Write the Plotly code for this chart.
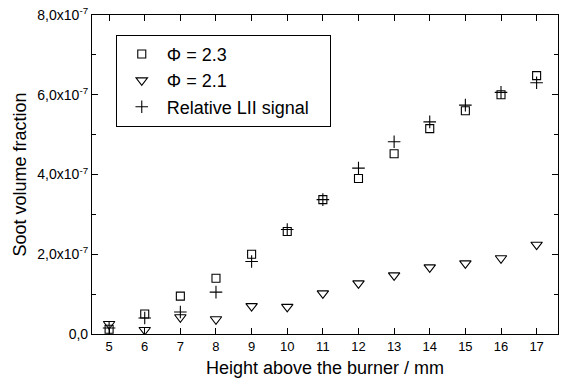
import plotly.graph_objects as go

heights = [5, 6, 7, 8, 9, 10, 11, 12, 13, 14, 15, 16, 17]
phi23 = [0.12e-7, 0.50e-7, 0.95e-7, 1.40e-7, 2.00e-7, 2.57e-7, 3.37e-7, 3.90e-7, 4.52e-7, 5.15e-7, 5.60e-7, 6.00e-7, 6.48e-7]
phi21 = [0.25e-7, 0.10e-7, 0.42e-7, 0.37e-7, 0.70e-7, 0.68e-7, 1.02e-7, 1.27e-7, 1.47e-7, 1.67e-7, 1.77e-7, 1.90e-7, 2.24e-7]
lii = [0.15e-7, 0.40e-7, 0.55e-7, 1.05e-7, 1.82e-7, 2.62e-7, 3.37e-7, 4.16e-7, 4.82e-7, 5.32e-7, 5.74e-7, 6.06e-7, 6.30e-7]

ytick_vals = [0, 2e-7, 4e-7, 6e-7, 8e-7]
ytick_text = ["0,0", "2,0x10<sup>-7</sup>", "4,0x10<sup>-7</sup>", "6,0x10<sup>-7</sup>", "8,0x10<sup>-7</sup>"]

fig = go.Figure()
fig.add_trace(go.Scatter(x=heights, y=phi23, mode="markers", name="Φ = 2.3", legendgroup="a",
                         marker=dict(symbol="square-open", size=8, color="black", line=dict(width=1.1))))
fig.add_trace(go.Scatter(x=heights, y=phi21, mode="markers", name="Φ = 2.1", legendgroup="b",
                         marker=dict(symbol="triangle-down-open", size=10, color="black", line=dict(width=1.1))))
fig.add_trace(go.Scatter(x=heights, y=lii, mode="markers", name="Relative LII signal\u00a0\u00a0\u00a0", legendgroup="c",
                         marker=dict(symbol="cross-thin-open", size=9, color="black", line=dict(width=1.1))))

axis_common = dict(showline=True, linecolor="black", linewidth=1.2, mirror="ticks", ticks="inside",
                   tickcolor="black", showgrid=False, zeroline=False)

fig.update_layout(
    width=564, height=385,
    margin=dict(l=92, r=5, t=13, b=51),
    paper_bgcolor="white", plot_bgcolor="white",
    font=dict(family="Arial, Liberation Sans, sans-serif", color="black", size=13),
    xaxis=dict(range=[4.52, 17.6], tickvals=heights, ticklen=6, tickfont=dict(size=13),
               title=dict(text="Height above the burner / mm", font=dict(size=18), standoff=8),
               **axis_common),
    yaxis=dict(range=[0, 8e-7], tickvals=ytick_vals, ticktext=ytick_text, ticklen=6, tickfont=dict(size=14),
               minor=dict(dtick=1e-7, ticks="inside", ticklen=4, tickcolor="black", showgrid=False),
               title=dict(text="Soot volume fraction", font=dict(size=18), standoff=6),
               **axis_common),
    showlegend=True,
    legend=dict(x=0.051, y=0.938, xanchor="left", yanchor="top", bordercolor="black", borderwidth=1,
                bgcolor="white", font=dict(size=18), tracegroupgap=0, traceorder="grouped",
                itemwidth=40),
)

fig.write_html("out.html")
